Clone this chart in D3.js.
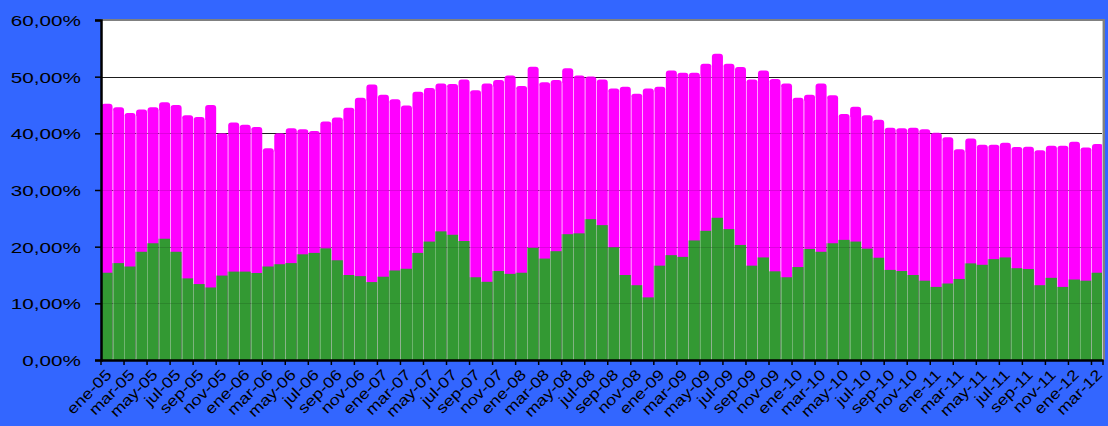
<!DOCTYPE html>
<html>
<head>
<meta charset="utf-8">
<script src="https://cdn.jsdelivr.net/npm/d3@7"></script>
<style>
  html, body { margin: 0; padding: 0; background: #3366FF; }
  svg { display: block; }
</style>
</head>
<body>
<svg id="chart" width="1108" height="426"></svg>
<script>
const months = [
  "ene-05","feb-05","mar-05","abr-05","may-05","jun-05","jul-05","ago-05","sep-05","oct-05","nov-05","dic-05",
  "ene-06","feb-06","mar-06","abr-06","may-06","jun-06","jul-06","ago-06","sep-06","oct-06","nov-06","dic-06",
  "ene-07","feb-07","mar-07","abr-07","may-07","jun-07","jul-07","ago-07","sep-07","oct-07","nov-07","dic-07",
  "ene-08","feb-08","mar-08","abr-08","may-08","jun-08","jul-08","ago-08","sep-08","oct-08","nov-08","dic-08",
  "ene-09","feb-09","mar-09","abr-09","may-09","jun-09","jul-09","ago-09","sep-09","oct-09","nov-09","dic-09",
  "ene-10","feb-10","mar-10","abr-10","may-10","jun-10","jul-10","ago-10","sep-10","oct-10","nov-10","dic-10",
  "ene-11","feb-11","mar-11","abr-11","may-11","jun-11","jul-11","ago-11","sep-11","oct-11","nov-11","dic-11",
  "ene-12","feb-12","mar-12"
];

const greenSeries = [
  15.4,17.1,16.5,19.1,20.6,21.4,19.1,14.4,13.4,12.8,14.9,15.6,
  15.6,15.35,16.5,16.9,17.1,18.65,18.9,19.7,17.6,15.0,14.8,13.75,
  14.7,15.8,16.1,18.9,20.9,22.7,22.1,21.0,14.6,13.8,15.7,15.2,
  15.4,19.8,17.9,19.2,22.2,22.35,24.85,23.8,19.9,15.0,13.2,11.05,
  16.65,18.5,18.2,21.1,22.8,25.1,23.1,20.3,16.65,18.1,15.65,14.6,
  16.4,19.6,19.1,20.6,21.2,20.9,19.65,18.05,15.9,15.7,15.0,14.0,
  12.9,13.5,14.3,17.05,16.8,17.8,18.1,16.2,16.05,13.2,14.5,12.9,
  14.2,14.0,15.4
];

const magentaSeries = [
  29.8,27.5,27.1,25.1,24.0,24.1,25.9,28.8,29.5,32.2,25.1,26.3,
  25.9,25.75,20.85,23.1,23.8,22.05,21.5,22.4,25.2,29.5,31.5,34.85,
  32.1,30.2,28.8,28.45,27.1,26.1,26.6,28.5,33.0,35.0,33.7,35.0,
  32.95,31.95,31.1,30.2,29.3,27.85,25.2,25.7,28.0,33.2,33.8,36.85,
  31.55,32.6,32.5,29.6,29.5,28.95,29.2,31.4,32.85,33.0,33.95,34.2,
  29.9,27.2,29.7,26.1,22.2,23.8,23.55,24.35,25.1,25.2,26.0,26.7,
  27.2,25.8,22.9,22.05,21.2,20.2,20.25,21.4,21.6,23.8,23.3,24.9,
  24.3,23.5,22.7
];

const yTicks = [0,10,20,30,40,50,60];
const yTickLabels = ["0,00%","10,00%","20,00%","30,00%","40,00%","50,00%","60,00%"];

const rows = months.map((m, i) => ({ month: m, green: greenSeries[i], magenta: magentaSeries[i] }));
const stacked = d3.stack().keys(["green","magenta"])(rows);

const svg = d3.select("#chart");
const pLeft = 101, pRight = 1103, pTop = 20, pBottom = 360;

const x = d3.scaleBand().domain(months).range([pLeft, pRight]).padding(0);
const y = d3.scaleLinear().domain([0, 60]).range([pBottom, pTop]);
const bw = x.bandwidth();

// plot background
svg.append("rect").attr("x", pLeft).attr("y", pTop).attr("width", pRight - pLeft).attr("height", pBottom - pTop)
  .attr("fill", "#ffffff");

// gridlines (under bars)
svg.append("g").selectAll("line").data(yTicks.filter(t => t > 0 && t < 60)).join("line")
  .attr("x1", pLeft).attr("x2", pRight)
  .attr("y1", d => Math.round(y(d)) + 0.5).attr("y2", d => Math.round(y(d)) + 0.5)
  .attr("stroke", "#222").attr("stroke-width", 1.2);

// magenta bars: full height with rounded top, green drawn on top
const gBars = svg.append("g");
gBars.selectAll("rect.mag").data(stacked[1]).join("rect")
  .attr("class", "mag")
  .attr("x", (d, i) => x(months[i]) + 0.5)
  .attr("width", bw - 0.5)
  .attr("y", d => y(d[1]))
  .attr("height", d => y(0) - y(d[1]))
  .attr("rx", 3).attr("ry", 3)
  .attr("fill", "#FF00FF");

gBars.selectAll("rect.grn").data(stacked[0]).join("rect")
  .attr("class", "grn")
  .attr("x", (d, i) => x(months[i]))
  .attr("width", bw)
  .attr("y", d => y(d[1]))
  .attr("height", d => y(0) - y(d[1]))
  .attr("fill", "#339933");

// separators between bars
gBars.selectAll("line.sep").data(stacked[1].slice(1)).join("line")
  .attr("class", "sep")
  .attr("x1", (d, i) => Math.round(x(months[i + 1])) + 0.5)
  .attr("x2", (d, i) => Math.round(x(months[i + 1])) + 0.5)
  .attr("y1", (d, i) => y(Math.min(stacked[1][i][1], d[1])) + 3)
  .attr("y2", y(0))
  .attr("stroke", "#ffffff").attr("stroke-opacity", 0.28).attr("stroke-width", 1);

// faint gridlines over bars
svg.append("g").selectAll("line").data(yTicks.filter(t => t > 0 && t < 60)).join("line")
  .attr("x1", pLeft).attr("x2", pRight)
  .attr("y1", d => Math.round(y(d)) + 0.5).attr("y2", d => Math.round(y(d)) + 0.5)
  .attr("stroke", "#000").attr("stroke-opacity", 0.12).attr("stroke-width", 1);

// plot border top/right
svg.append("line").attr("x1", pLeft).attr("x2", pRight + 1).attr("y1", pTop).attr("y2", pTop)
  .attr("stroke", "#808080").attr("stroke-width", 2);
svg.append("line").attr("x1", pRight + 1).attr("x2", pRight + 1).attr("y1", pTop - 1).attr("y2", pBottom)
  .attr("stroke", "#808080").attr("stroke-width", 2);
svg.append("line").attr("x1", pRight - 0.5).attr("x2", pRight - 0.5).attr("y1", pTop + 1).attr("y2", pBottom)
  .attr("stroke", "#c8c8c8").attr("stroke-width", 1);

// Y axis
const yAxis = svg.append("g").attr("transform", `translate(${pLeft},0)`)
  .call(d3.axisLeft(y).tickValues(yTicks).tickSize(6).tickFormat((d, i) => yTickLabels[i]));
yAxis.select(".domain").attr("stroke", "#000").attr("stroke-width", 2.5);
yAxis.selectAll(".tick line").attr("stroke", "#000").attr("stroke-width", 1.5);
yAxis.selectAll(".tick text")
  .attr("fill", "#000")
  .attr("font-family", "Liberation Sans, Arial, sans-serif")
  .attr("font-size", 15)
  .attr("x", 0).attr("dy", "0.36em")
  .attr("text-anchor", "end")
  .attr("transform", "translate(-20,0) scale(1.38,1)");

// X axis
const tickVals = months.filter((m, i) => i % 2 === 0);
const xAxis = svg.append("g").attr("transform", `translate(0,${pBottom})`)
  .call(d3.axisBottom(x).tickValues(tickVals).tickSize(0).tickFormat(d => d));
xAxis.select(".domain").attr("stroke", "#000").attr("stroke-width", 2.5);
xAxis.selectAll(".tick text")
  .attr("fill", "#000")
  .attr("font-family", "Liberation Sans, Arial, sans-serif")
  .attr("font-size", 15)
  .attr("text-anchor", "end")
  .attr("x", 0).attr("y", 0).attr("dy", "0.35em")
  .attr("transform", "translate(2,12) rotate(-45) scale(1.2,1)");

// x tick marks at category boundaries every 2 categories
const boundaries = tickVals.map(m => x(m));
boundaries.push(pRight);
svg.append("g").selectAll("line").data(boundaries).join("line")
  .attr("x1", d => d).attr("x2", d => d)
  .attr("y1", pBottom).attr("y2", pBottom + 5)
  .attr("stroke", "#000").attr("stroke-width", 1.5);
</script>
</body>
</html>
